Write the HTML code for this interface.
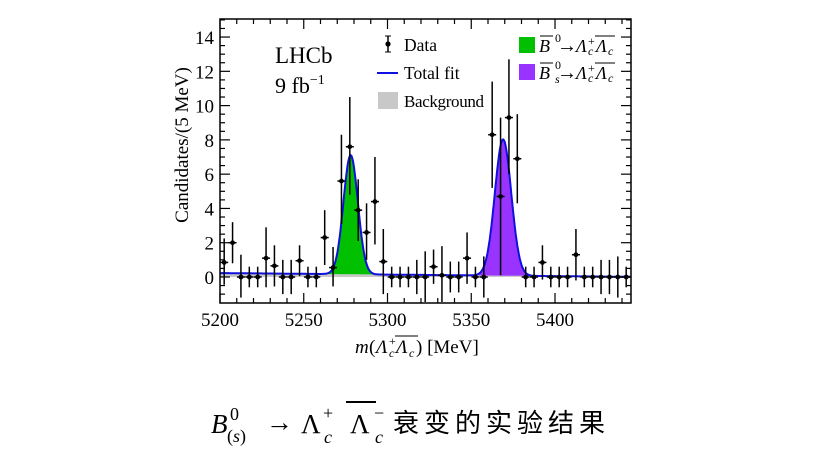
<!DOCTYPE html>
<html><head><meta charset="utf-8"><style>
body{margin:0;background:#fff;width:821px;height:447px;overflow:hidden}
text{font-family:"Liberation Serif",serif;fill:#000}
</style></head><body>
<svg id="s" width="821" height="447" xmlns="http://www.w3.org/2000/svg">
<g id="fills"></g>
<g id="ticks" stroke="#000" stroke-width="1.2"></g>
<g id="data" stroke="#000" stroke-width="1.5"></g>
<rect x="220" y="19" width="411" height="284" fill="none" stroke="#000" stroke-width="1.5"/>
<g font-size="19" text-anchor="end" id="ylab"></g>
<g font-size="19" text-anchor="middle" id="xlab"></g>
<text x="275" y="63" font-size="23">LHCb</text>
<text x="275" y="93" font-size="22">9 fb<tspan dy="-9" font-size="14">−1</tspan></text>
<line x1="388" y1="36" x2="388" y2="52" stroke="#000" stroke-width="1.5"/><line x1="385" y1="36" x2="391" y2="36" stroke="#000"/><line x1="385" y1="52" x2="391" y2="52" stroke="#000"/><circle cx="388" cy="44" r="2.6"/>
<text x="404" y="51" font-size="17.5">Data</text>
<line x1="377" y1="73" x2="398" y2="73" stroke="#1010e0" stroke-width="2"/>
<text x="404" y="79" font-size="17.5">Total fit</text>
<rect x="378" y="92" width="20" height="17" fill="#c8c8c8"/>
<text x="404" y="107" font-size="17" textLength="80">Background</text>
<rect x="519" y="37" width="16" height="16" fill="#00c000"/>
<rect x="519" y="64" width="16" height="16" fill="#9933ff"/>
<g font-size="18" font-style="italic">
<text x="539" y="52">B</text><text x="555" y="42" font-size="12" font-style="normal">0</text>
<text x="557" y="52" font-style="normal" font-size="20">→</text><text x="576" y="52">Λ</text><text x="588" y="55" font-size="12">c</text><text x="588" y="45" font-size="12" font-style="normal">+</text>
<text x="596" y="52">Λ</text><text x="608" y="55" font-size="12">c</text>
<text x="539" y="79">B</text><text x="555" y="69" font-size="12" font-style="normal">0</text><text x="555" y="83" font-size="12">s</text>
<text x="557" y="79" font-style="normal" font-size="20">→</text><text x="576" y="79">Λ</text><text x="588" y="82" font-size="12">c</text><text x="588" y="72" font-size="12" font-style="normal">+</text>
<text x="596" y="79">Λ</text><text x="608" y="82" font-size="12">c</text>
</g>
<line x1="540" y1="36" x2="553" y2="36" stroke="#000"/><line x1="595" y1="36" x2="615" y2="36" stroke="#000"/>
<line x1="540" y1="63" x2="553" y2="63" stroke="#000"/><line x1="595" y1="63" x2="615" y2="63" stroke="#000"/>
<text transform="translate(188,145) rotate(-90)" font-size="19" text-anchor="middle">Candidates/(5 MeV)</text>
<g font-size="19">
<text x="355" y="353" font-style="italic">m</text><text x="369" y="353">(</text>
<text x="376" y="353" font-style="italic">Λ</text><text x="389" y="345" font-size="12">+</text><text x="389" y="357" font-size="12" font-style="italic">c</text>
<text x="396" y="353" font-style="italic">Λ</text><text x="409" y="357" font-size="12" font-style="italic">c</text>
<text x="416" y="353">) [MeV]</text>
</g>
<line x1="395" y1="336" x2="418" y2="336" stroke="#000"/>
<g font-size="27">
<text x="211" y="433" font-style="italic">B</text>
<text x="230" y="420" font-size="18">0</text>
<text x="227" y="442" font-size="18">(<tspan font-style="italic">s</tspan>)</text>
<text x="266" y="431">→</text>
<text x="301" y="433">Λ</text>
<text x="323" y="419" font-size="18">+</text>
<text x="324" y="443" font-size="18" font-style="italic">c</text>
<text x="350" y="433">Λ</text>
<text x="374" y="419" font-size="18">−</text>
<text x="375" y="443" font-size="18" font-style="italic">c</text>
<text x="393" y="432" font-size="26" letter-spacing="5" font-family="Noto Serif CJK SC, Noto Sans CJK SC, serif">衰变的实验结果</text>
</g>
<line x1="346" y1="402" x2="376" y2="402" stroke="#000" stroke-width="2"/>
</svg>
<script>
var NS="http://www.w3.org/2000/svg";
function X(m){return 220+(m-5200)*1.675}
function Y(v){return 277-v*17.14}
function el(p,t,a){var e=document.createElementNS(NS,t);for(var k in a)e.setAttribute(k,a[k]);document.getElementById(p).appendChild(e);return e}
function bg(m){return 0.22*(1-(m-5200)/245)+0.01}
function g1(m){return 6.95*Math.exp(-0.5*Math.pow((m-5278)/4.3,2))}
function g2(m){return 7.95*Math.exp(-0.5*Math.pow((m-5369)/4.9,2))}
var pt="";
for(var m=5200;m<=5445;m+=0.5){var b=bg(m);pt+=(m==5200?"M":"L")+X(m).toFixed(1)+","+Y(b+g1(m)+g2(m)).toFixed(1);}
var s="M"+X(5200)+","+Y(0);for(m=5200;m<=5445;m+=1)s+="L"+X(m).toFixed(1)+","+Y(bg(m)).toFixed(1);s+="L"+X(5445)+","+Y(0)+"Z";
el("fills","path",{d:s,fill:"#c8c8c8"});
s="M"+X(5255)+","+Y(bg(5255));for(m=5255;m<=5300;m+=0.5)s+="L"+X(m).toFixed(1)+","+Y(bg(m)+g1(m)).toFixed(1);for(m=5300;m>=5255;m-=1)s+="L"+X(m).toFixed(1)+","+Y(bg(m)).toFixed(1);
el("fills","path",{d:s+"Z",fill:"#00c000"});
s="M"+X(5345)+","+Y(bg(5345));for(m=5345;m<=5393;m+=0.5)s+="L"+X(m).toFixed(1)+","+Y(bg(m)+g2(m)).toFixed(1);for(m=5393;m>=5345;m-=1)s+="L"+X(m).toFixed(1)+","+Y(bg(m)).toFixed(1);
el("fills","path",{d:s+"Z",fill:"#9933ff"});
el("fills","path",{d:pt,fill:"none",stroke:"#1010e0","stroke-width":2});
for(m=5200;m<=5440;m+=10){var L=(m%50==0)?10:5;el("ticks","line",{x1:X(m),x2:X(m),y1:303,y2:303-L});el("ticks","line",{x1:X(m),x2:X(m),y1:19,y2:19+L});}
for(var v=-1;v<=15;v+=0.5){var L=(v%2==0)?10:5;el("ticks","line",{x1:220,x2:220+L,y1:Y(v),y2:Y(v)});el("ticks","line",{x1:631,x2:631-L,y1:Y(v),y2:Y(v)});}
for(v=0;v<=14;v+=2){el("ylab","text",{x:214,y:Y(v)+7}).textContent=v;}
for(m=5200;m<=5400;m+=50){el("xlab","text",{x:X(m),y:326}).textContent=m;}
var d=[[.85,1.4,1.3],[2,1.2,1.2],[0,1.3,1.2],[0,.6,.6],[0,.6,.6],[1.1,1.8,1.7],[.65,1.2,1.2],[0,1,1],[0,1,1],[.95,.9,.9],[0,.6,.6],[0,.6,.6],[2.3,1.6,1.6],[.55,1.2,1.1],[5.6,2.7,2.5],[7.6,2.9,2.8],[3.9,1.8,1.8],[2.6,1.7,1.6],[4.4,2.6,2.5],[.9,1.9,1.9],[0,.6,.6],[0,.6,.6],[0,.6,.6],[0,1,1],[0,1.5,1.5],[.6,1,1],[.1,1.7,1.7],[0,.9,.9],[0,.9,.9],[1.1,1.5,1.5],[0,.6,.6],[0,1.2,1.2],[8.3,3.1,3.1],[4.7,4.6,4.6],[9.3,3.4,3.3],[6.9,2.6,2.6],[0,.6,.6],[0,.6,.6],[.85,1,1],[0,.6,.6],[0,.6,.6],[0,.6,.6],[1.3,1.5,1.5],[0,.6,.6],[0,.6,.6],[0,1,1],[0,1,1],[0,1.2,1.2],[0,.6,.6]];
for(var i=0;i<d.length;i++){var mm=5202.5+5*i,x=X(mm);if(x>630)break;var y=Y(d[i][0]);
el("data","line",{x1:x,x2:x,y1:Y(d[i][0]+d[i][1]),y2:Math.min(302,Y(d[i][0]-d[i][2]))});
el("data","line",{x1:x-4,x2:x+4,y1:y,y2:y});
el("data","circle",{cx:x,cy:y,r:2.4,fill:"#000",stroke:"none"});}
</script>
</body></html>
